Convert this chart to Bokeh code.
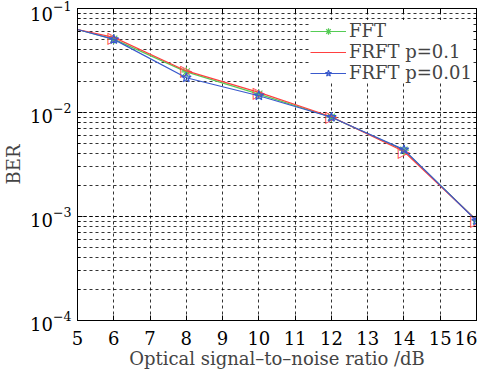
import numpy as np
from bokeh.plotting import figure
from bokeh.models import (LinearAxis, LogAxis, FixedTicker, Legend, LegendItem,
                          Range1d, CustomJSTickFormatter)
from bokeh.core.properties import value
from bokeh.embed import file_html
from bokeh.resources import INLINE

# ---- data ----
osnr = [5, 6, 8, 10, 12, 14, 16]
ber_fft = [0.0628, 0.0508, 0.0246, 0.0150, 0.0090, 0.00435, 0.00092]
ber_frft_01 = [0.0628, 0.0528, 0.0251, 0.0156, 0.0091, 0.00422, 0.00092]
ber_frft_001 = [0.0628, 0.0505, 0.0216, 0.0145, 0.0090, 0.00440, 0.00091]
marker_idx = [1, 2, 3, 4, 5, 6]
x_ticks = list(range(5, 17))
series_names = ["FFT", "FRFT p=0.1", "FRFT p=0.01"]

FONT = "DejaVu Serif"
FS = "18px"
TRI = "\u25b7"

p = figure(width=477, height=376, output_backend="svg", toolbar_location=None,
           y_axis_type="log", x_range=Range1d(5, 16), y_range=Range1d(1e-4, 1e-1),
           min_border_left=69, min_border_right=1, min_border_top=8, min_border_bottom=56)
p.outline_line_color = "black"
p.outline_line_width = 1

styles = [("#55cc55", "asterisk"), ("#ff4040", "tri_right"), ("#3a5acd", "star")]
all_vals = [ber_fft, ber_frft_01, ber_frft_001]
items = []
for name, vals, (col, mk) in zip(series_names, all_vals, styles):
    r1 = p.line(osnr, vals, line_color=col, line_width=1.2)
    mx = [osnr[i] for i in marker_idx]
    my = [vals[i] for i in marker_idx]
    if mk == "tri_right":
        r2 = p.text(mx, my, text=[TRI] * len(mx), text_color=col,
                    text_font=value("DejaVu Sans"), text_font_size="16px",
                    text_align="center", text_baseline="middle")
    else:
        r2 = p.scatter(mx, my, marker=mk, size=10, line_color=col,
                       fill_color=None, line_width=1.2)
    items.append(LegendItem(label=name, renderers=[r1, r2]))

legend = Legend(items=items, location=(233, 237), label_text_font=FONT,
                label_text_font_size=FS, border_line_color=None,
                background_fill_alpha=1, padding=2, spacing=0, margin=0,
                glyph_width=36, label_standoff=3, label_height=16, glyph_height=16)
p.add_layout(legend)

# axes
p.xaxis.ticker = FixedTicker(ticks=x_ticks)
p.xaxis.axis_label = "Optical signal\u2013to\u2013noise ratio /dB"
p.yaxis.axis_label = "BER"
for ax in [p.xaxis[0], p.yaxis[0]]:
    ax.major_label_text_font = FONT
    ax.major_label_text_font_size = FS
    ax.axis_label_text_font = FONT
    ax.axis_label_text_font_size = FS
    ax.axis_label_text_font_style = "normal"
    ax.major_tick_in = 5
    ax.major_tick_out = 0
    ax.minor_tick_in = 3
    ax.minor_tick_out = 0
    ax.axis_line_color = "black"
    ax.major_label_text_color = "black"
p.xaxis.minor_tick_line_color = None
p.xaxis.axis_label_standoff = 0
p.xaxis.major_label_standoff = 10
p.yaxis.axis_label_standoff = 3
p.yaxis.major_label_standoff = 6

top = LinearAxis(ticker=FixedTicker(ticks=x_ticks),
                 formatter=CustomJSTickFormatter(code="return '';"),
                 major_label_text_font_size="0px",
                 major_tick_in=5, major_tick_out=0, minor_tick_line_color=None,
                 major_label_standoff=0)
p.add_layout(top, "above")
right = LogAxis(formatter=CustomJSTickFormatter(code="return '';"),
                major_label_text_font_size="0px",
                major_tick_in=5, major_tick_out=0,
                minor_tick_in=3, minor_tick_out=0, major_label_standoff=0)
p.add_layout(right, "right")

# grids
for g in [p.xgrid, p.ygrid]:
    g.grid_line_color = "black"
    g.grid_line_dash = "3 3"
    g.grid_line_alpha = 0.8
p.ygrid.minor_grid_line_color = "black"
p.ygrid.minor_grid_line_dash = "3 3"
p.ygrid.minor_grid_line_alpha = 0.8

open("out.html", "w").write(file_html(p, INLINE))
